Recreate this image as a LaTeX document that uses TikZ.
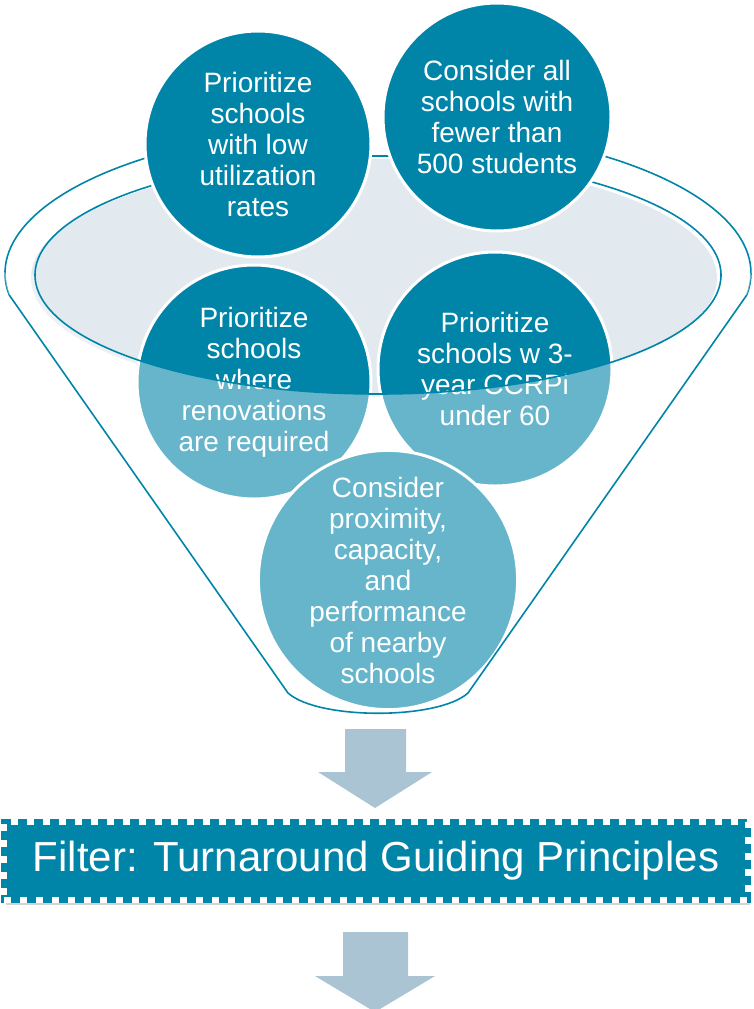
\documentclass[tikz,border=0pt]{standalone}
\usepackage{fontspec}
\setmainfont{Liberation Sans}
\usetikzlibrary{shadows}
\definecolor{funnelteal}{HTML}{0085A9}
\definecolor{rimfill}{HTML}{E2E9EF}
\definecolor{arrowblue}{HTML}{ABC4D4}

\begin{document}
\begin{tikzpicture}[x=1pt, y=-1pt,
    criterion/.style={circle, fill=funnelteal, draw=white, line width=3pt, text=white, align=center, inner sep=0pt, font=\fontsize{28}{31}\selectfont},
    rim/.style={draw=funnelteal, line width=1.6pt},
    blockarrow/.style={fill=arrowblue},
    filterbox/.style={rectangle, fill=funnelteal, draw=funnelteal, line width=6pt, minimum width=744pt, minimum height=78pt, inner sep=0pt, text=white, font=\fontsize{42}{50}\selectfont,
        drop shadow={shadow xshift=2pt, shadow yshift=-5pt, opacity=0.35},
        postaction={draw=white, line width=6pt, dash pattern=on 7pt off 9pt}}
]
\useasboundingbox (0,0) rectangle (754,1009);

% back of the funnel
\draw[rim] (9.2,295) arc[start angle=171.4, end angle=264, x radius=373, y radius=147];
\draw[rim] (378,273) ++(276:373 and 147) arc[start angle=276, end angle=368.6, x radius=373, y radius=147];
\fill[rimfill] (374,278) ellipse[x radius=343, y radius=119];

% criteria inside the funnel
\node[criterion, minimum size=234pt] (ml) at (254,382) {Prioritize\\schools\\where\\renovations\\are required};
\node[criterion, minimum size=234pt] (mr) at (495,369) {Prioritize\\schools w 3-\\year CCRPi\\under 60};
\node[criterion, minimum size=246pt] (bot) at (388,580) {Consider\\proximity,\\capacity,\\and\\performance\\of nearby\\schools};

% front of the funnel
\fill[white, opacity=0.4] (9.2,295) -- (288,693) .. controls (318,720) and (438,720) .. (468,693) -- (746.8,295)
    arc[start angle=8.6, end angle=0, x radius=373, y radius=147] -- (721,275)
    arc[start angle=0, end angle=180, x radius=343, y radius=119] -- (5,273)
    arc[start angle=180, end angle=171.4, x radius=373, y radius=147] -- cycle;
\draw[rim] (9.2,295) -- (288,693) .. controls (318,720) and (438,720) .. (468,693) -- (746.8,295);
\draw[rim] (378,275) ellipse[x radius=343, y radius=119];

% criteria on top
\node[criterion, minimum size=226pt] (tl) at (258,144) {Prioritize\\schools\\with low\\utilization\\rates};
\node[criterion, minimum size=228pt] (tr) at (497,117) {Consider all\\schools with\\fewer than\\500 students};

% arrows and filter
\fill[blockarrow] (345,729) -- (406,729) -- (406,772) -- (432,772) -- (375,808) -- (318,772) -- (345,772) -- cycle;
\node[filterbox] (filter) at (376,861) {Filter: Turnaround Guiding Principles};
\fill[blockarrow] (343,932) -- (408,932) -- (408,976) -- (435,976) -- (375,1012) -- (315,976) -- (343,976) -- cycle;

\end{tikzpicture}
\end{document}
